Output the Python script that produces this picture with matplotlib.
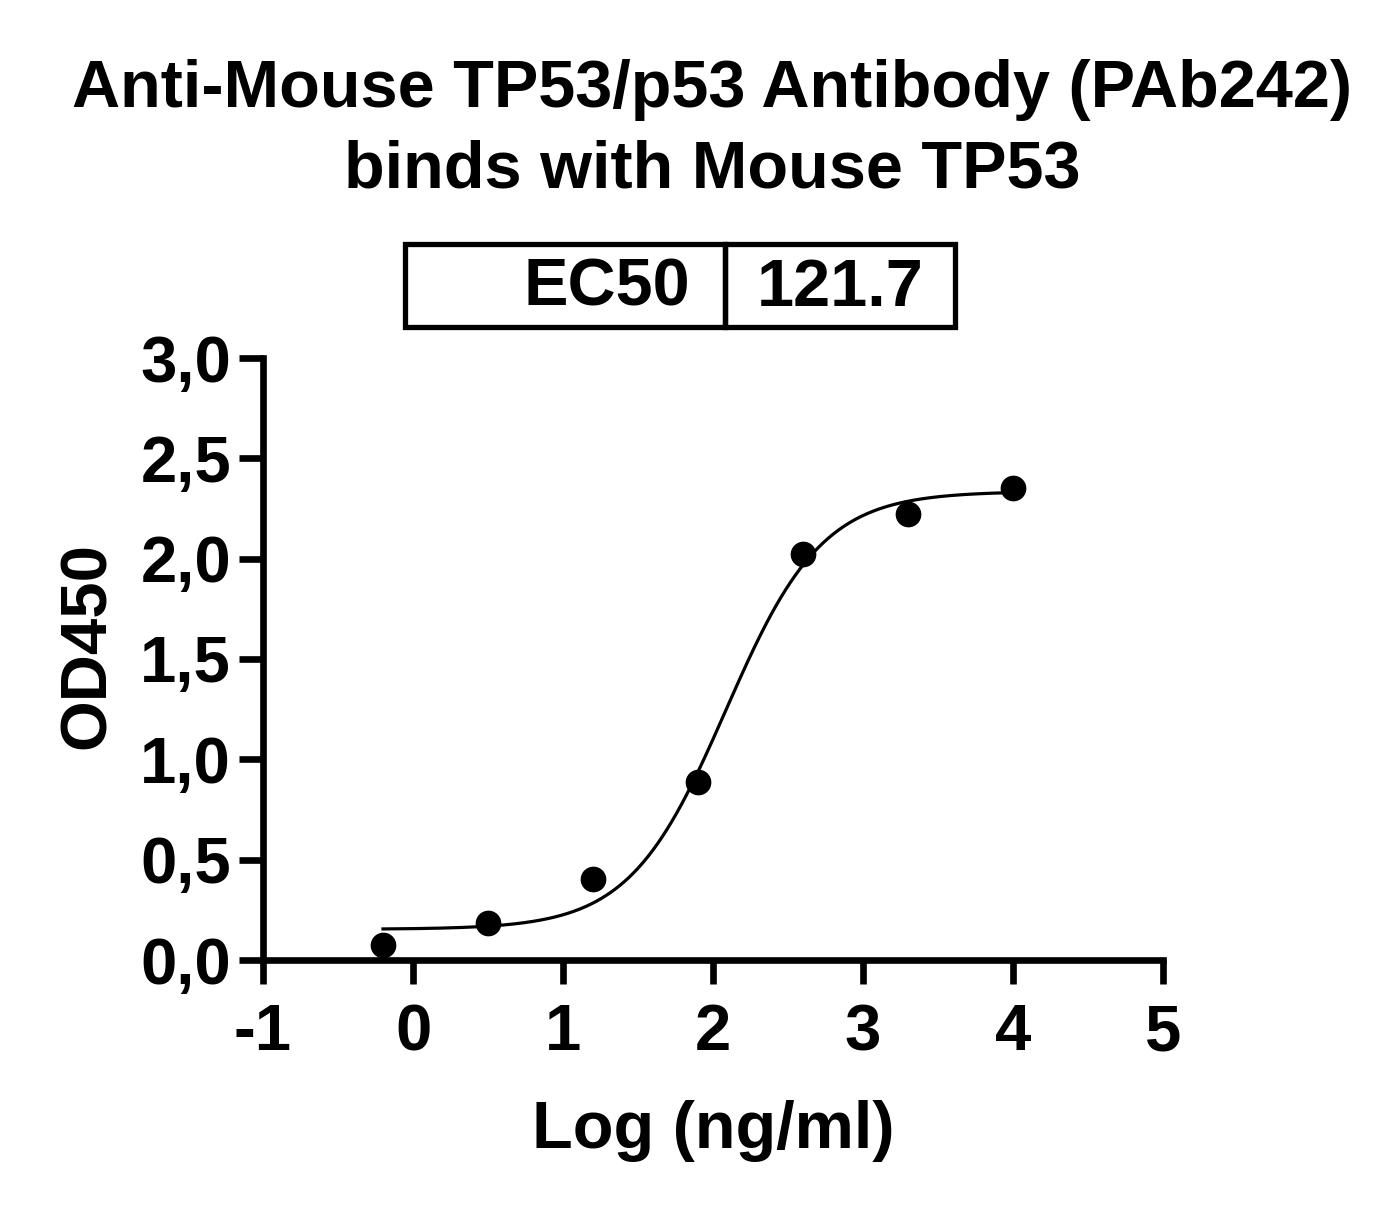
import numpy as np
import matplotlib
matplotlib.use("Agg")
import matplotlib.pyplot as plt
from matplotlib.patches import Rectangle

plt.rcParams['font.family'] = ['Liberation Sans', 'DejaVu Sans']
plt.rcParams['font.weight'] = 'bold'

# data
log_conc = [-0.2, 0.5, 1.2, 1.9, 2.6, 3.3, 4.0]
od450 = [0.075, 0.183, 0.402, 0.888, 2.021, 2.225, 2.350]

# 4PL fit shown on the chart
ec50 = 121.7
fit_bottom = 0.153
fit_top = 2.335
fit_hill = 1.35

x_ticks = [-1, 0, 1, 2, 3, 4, 5]
y_ticks = [0.0, 0.5, 1.0, 1.5, 2.0, 2.5, 3.0]
y_ticklabels = ['0,0', '0,5', '1,0', '1,5', '2,0', '2,5', '3,0']

W, H = 1399, 1208
fig = plt.figure(figsize=(W / 100, H / 100), dpi=100)
ax = fig.add_axes([263 / W, 1 - 960 / H, 900 / W, 602 / H])

xx = np.linspace(min(log_conc), max(log_conc), 400)
log_ec50 = np.log10(ec50)
yy = fit_bottom + (fit_top - fit_bottom) / (1 + 10 ** ((log_ec50 - xx) * fit_hill))
ax.plot(xx, yy, color='black', lw=2.3, zorder=2)
ax.plot(log_conc, od450, 'o', color='black', ms=17.5, zorder=3, clip_on=False)

ax.set_xlim(-1, 5)
ax.set_ylim(0, 3)
ax.set_xticks(x_ticks)
ax.set_xticklabels([str(t) for t in x_ticks])
ax.set_yticks(y_ticks)
ax.set_yticklabels(y_ticklabels)
for s in ['top', 'right']:
    ax.spines[s].set_visible(False)
for s in ['left', 'bottom']:
    ax.spines[s].set_linewidth(4.8)
ax.tick_params(width=4.8, length=17, labelsize=47, pad=6)
ax.tick_params(axis='x', pad=14)
for lab in ax.get_xticklabels() + ax.get_yticklabels():
    lab.set_fontweight('bold')

ax.set_xlabel('Log (ng/ml)', fontsize=48, fontweight='bold', va='baseline')
ax.xaxis.set_label_coords(0.5, (960 - 1148) / 602)
ax.set_ylabel('OD450', fontsize=47, fontweight='bold', va='baseline')
ax.yaxis.set_label_coords((105 - 263) / 900, (960 - 646) / 602)

fig.text(712 / W, 1 - 107 / H, 'Anti-Mouse TP53/p53 Antibody (PAb242)',
         ha='center', va='baseline', fontsize=48, fontweight='bold')
fig.text(712 / W, 1 - 187 / H, 'binds with Mouse TP53',
         ha='center', va='baseline', fontsize=48, fontweight='bold')

# EC50 box
def fx(px):
    return px / W

def fy(py):
    return 1 - py / H

for x0, x1 in [(405, 725), (725, 955)]:
    fig.patches.append(Rectangle((fx(x0), fy(327)), fx(x1) - fx(x0), fy(244) - fy(327),
                                 transform=fig.transFigure, fill=False,
                                 edgecolor='black', lw=3.8))
fig.text(fx(690), fy(306), 'EC50', ha='right', va='baseline', fontsize=48, fontweight='bold')
fig.text(fx(757), fy(306), f'{ec50}', ha='left', va='baseline', fontsize=48, fontweight='bold')

fig.savefig('out.png', dpi=100)
